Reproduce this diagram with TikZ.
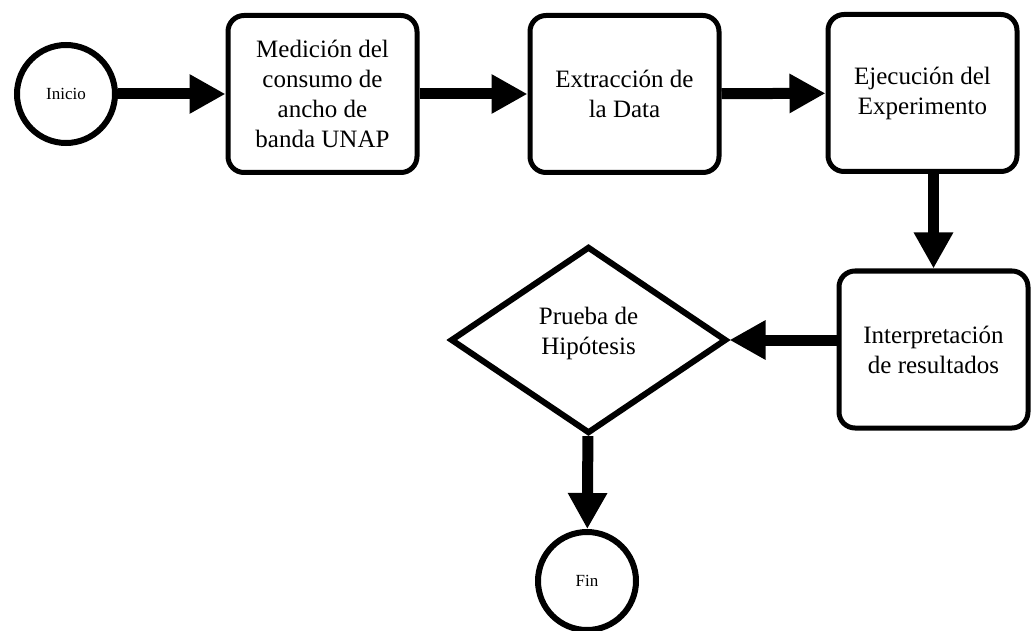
\documentclass[tikz,border=0pt]{standalone}
\usepackage{fontspec}
\setmainfont{Liberation Serif}
\usetikzlibrary{arrows.meta,shapes.geometric}
\tikzset{
    proceso/.style={rectangle, draw, rounded corners=16pt, line width=5pt,
    	minimum width=189pt, minimum height=157pt, inner sep=0pt, align=center,
    	font=\fontsize{25}{30}\selectfont}
}
\tikzset{
    terminal/.style={circle, draw, line width=6pt, minimum size=98pt,
    	inner sep=0pt, font=\fontsize{17}{20}\selectfont}
}
\tikzset{
    decision/.style={diamond, draw, line width=6pt, minimum width=276pt,
    	minimum height=187pt, inner sep=0pt}
}
\tikzset{
    flecha/.style={line width=11pt, -{Triangle[length=36pt,width=37pt]}}
}

\begin{document}
\begin{tikzpicture}[x=1pt,y=-1pt]
	\useasboundingbox (0,0) rectangle (1031,631);
	\node (inicio) [terminal] at (66,94) {Inicio};
	\node (med) [proceso] at (322.5,94) {Medición del\\consumo de\\ancho de\\banda UNAP};
	\node (ext) [proceso] at (624.5,94) {Extracción de\\la Data};
	\node (eje) [proceso] at (922.5,93) {Ejecución del\\Experimento};
	\node (inter) [proceso] at (933.5,349.5) {Interpretación\\de resultados};
	\node (prueba) [decision, label={[align=center, yshift=7pt,
		font=\fontsize{25}{30}\selectfont]center:Prueba de\\Hipótesis}] at (588.5,340) {};
	\node (fin) [terminal] at (587,581) {Fin};
	
	\draw (inicio) edge [flecha] (med); \draw (med) edge [flecha] (ext);
	\draw (ext) edge [flecha] (eje);
	\draw (eje.south -| inter) edge [flecha] (inter);
	\draw (inter.west |- prueba) edge [flecha] (prueba);
	\draw (prueba) edge [flecha] (fin);
\end{tikzpicture}
\end{document}
